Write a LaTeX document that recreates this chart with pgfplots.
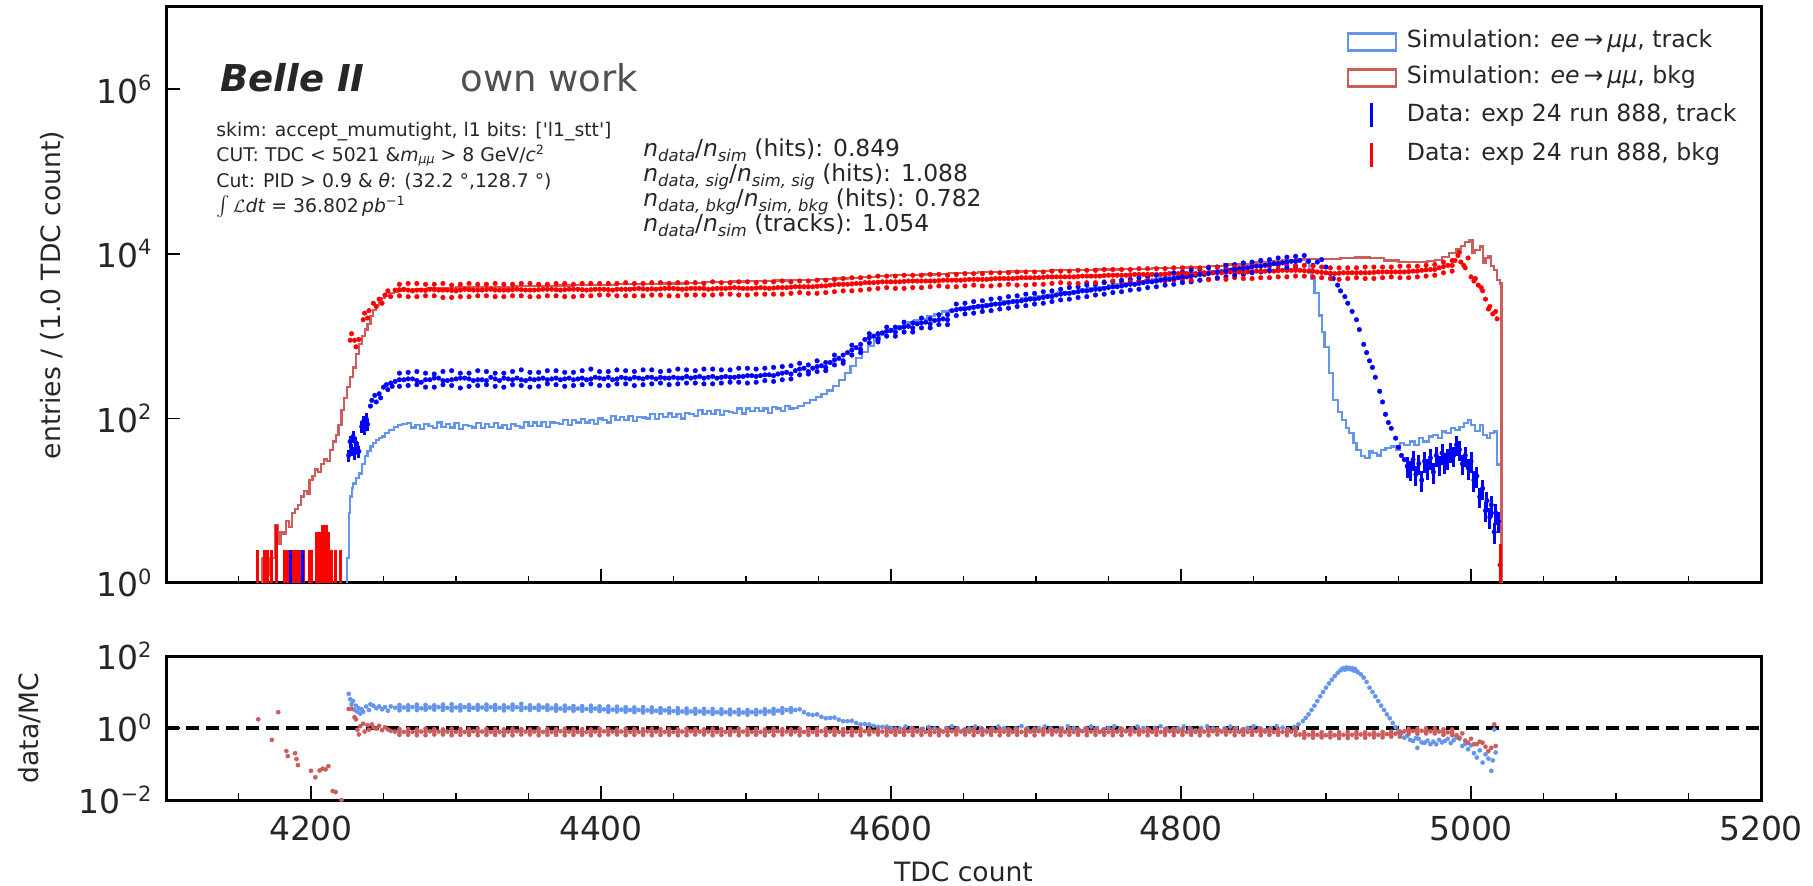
\documentclass[border=0pt]{standalone}
\usepackage{pgfplots}
\pgfplotsset{compat=1.18}
\usepackage{fontspec}
\setmainfont{DejaVu Sans}[Ligatures=TeXOff]
\definecolor{cfblue}{RGB}{100,149,237}
\definecolor{ired}{RGB}{205,92,92}
\definecolor{txt}{RGB}{38,38,38}
\definecolor{owngray}{RGB}{80,80,80}
\newcommand\tsup[1]{\raisebox{6.3pt}{\fontsize{10.5}{11}\selectfont#1}}
\newcommand\lsub[1]{\raisebox{-2.2pt}{\fontsize{8.2}{9}\selectfont\itshape#1}}
\newcommand\ssub[1]{\raisebox{-1.1pt}{\fontsize{6.3}{7}\selectfont\itshape#1}}
\newcommand\ssup[1]{\raisebox{3.6pt}{\fontsize{6.4}{7}\selectfont#1}}
\pgfplotsset{/pgfplots/table/lt/.style={x index=0, y expr=10^(\thisrowno{1}), row sep=\\}}
\begin{document}
\begin{tikzpicture}
\path[use as bounding box] (0pt,0pt) rectangle (906.5pt,-443pt);
\begin{axis}[at={(83pt,-3.5pt)}, anchor=north west, scale only axis, width=797.5pt, height=288pt,
  xmin=4100, xmax=5200, ymode=log, ymin=1, ymax=1e7,
  tick pos=left, tick align=inside,
  xtick={4200,4400,...,5200}, minor xtick={4150,4200,...,5150},
  major tick length=7pt, minor tick length=3.5pt,
  every tick/.style={line width=0.8pt, black},
  axis line style={line width=1.5pt, black},
  tick label style={font=\fontsize{16.5}{18}\selectfont, text=txt},
  yticklabel style={anchor=east, inner sep=0pt, xshift=-7pt},
  ytick={1,100,10000,1000000},
  yticklabels={10\tsup{0},10\tsup{2},10\tsup{4},10\tsup{6}},
  xticklabels={},
  ylabel={entries / (1.0 TDC count)},
  every axis y label/.style={at={(axis description cs:-0.0715,0.5)}, rotate=90, anchor=center, font=\fontsize{13.3}{15}\selectfont, text=txt},
  legend style={draw=none, fill=none, at={(0.9912,0.961)}, anchor=north east,
    font=\fontsize{11.8}{14}\selectfont, text=txt, row sep=6pt, inner sep=0pt,
    nodes={inner xsep=5pt, inner ysep=0pt, text height=9pt, text depth=3pt}},
  legend cell align=left]
% simulation track
\addplot[cfblue, line width=1.1pt, const plot, mark=none,
  legend image code/.code={\draw[cfblue, line width=1.2pt] (0pt,-4.25pt) rectangle (24pt,4.25pt);}]
 table[lt] {4224 -1\\ 4225 0.30\\ 4226 0.85\\ 4227 1.05\\ 4228 1.15\\ 4229 1.21\\ 4231 1.28\\ 4233 1.33\\ 4235 1.45\\ 4237 1.54\\ 4239 1.60\\ 4241 1.66\\ 4243 1.70\\ 4245 1.74\\ 4247 1.76\\ 4249 1.78\\ 4251 1.82\\ 4254 1.86\\ 4257 1.90\\ 4260 1.92\\ 4263 1.93\\
 4266 1.94\\ 4269 1.89\\ 4272 1.92\\ 4275 1.87\\ 4278 1.93\\ 4281 1.91\\ 4284 1.88\\ 4287 1.95\\ 4290 1.90\\ 4293 1.93\\ 4296 1.89\\ 4299 1.94\\ 4302 1.87\\ 4305 1.92\\ 4308 1.91\\ 4311 1.89\\ 4314 1.94\\ 4317 1.88\\ 4320 1.93\\ 4323 1.90\\ 4326 1.94\\ 4329 1.89\\ 4332 1.92\\ 4335 1.87\\ 4338 1.93\\ 4341 1.91\\
 4344 1.89\\ 4347 1.96\\ 4350 1.91\\ 4353 1.95\\ 4356 1.91\\ 4359 1.96\\ 4362 1.90\\ 4365 1.95\\ 4368 1.94\\ 4371 1.93\\ 4374 1.98\\ 4377 1.92\\ 4380 1.98\\ 4383 1.95\\ 4386 1.99\\ 4389 1.95\\ 4392 1.98\\ 4395 1.93\\ 4398 2.00\\ 4401 1.98\\ 4404 1.95\\ 4407 2.03\\ 4410 1.98\\ 4413 2.02\\ 4416 1.98\\ 4419 2.03\\ 4422 1.97\\ 4425 2.02\\
 4428 2.01\\ 4431 2.00\\ 4434 2.05\\ 4437 1.99\\ 4440 2.05\\ 4443 2.02\\ 4446 2.06\\ 4449 2.02\\ 4452 2.05\\ 4455 2.00\\ 4458 2.07\\ 4461 2.05\\ 4464 2.03\\ 4467 2.10\\ 4470 2.05\\ 4473 2.09\\ 4476 2.05\\ 4479 2.10\\ 4482 2.04\\ 4485 2.09\\ 4488 2.08\\ 4491 2.07\\ 4494 2.12\\ 4497 2.06\\ 4500 2.12\\ 4503 2.09\\ 4506 2.13\\ 4509 2.09\\ 4512 2.12\\ 4515 2.07\\ 4518 2.14\\ 4521 2.12\\ 4524 2.09\\ 4527 2.15\\ 4530 2.12\\ 4533 2.13\\
 4536 2.15\\ 4540 2.19\\ 4544 2.22\\ 4548 2.26\\ 4552 2.30\\ 4556 2.34\\ 4560 2.39\\ 4564 2.47\\ 4568 2.55\\ 4572 2.64\\ 4576 2.73\\ 4580 2.81\\ 4584 2.88\\ 4588 2.95\\ 4592 3.01\\ 4596 3.05\\ 4600 3.09\\ 4604 3.12\\ 4608 3.15\\ 4612 3.17\\ 4616 3.19\\ 4620 3.21\\ 4625 3.24\\ 4630 3.27\\ 4635 3.30\\ 4640 3.32\\
 4645 3.34\\ 4650 3.35\\ 4655 3.36\\ 4660 3.38\\ 4665 3.39\\ 4670 3.40\\ 4675 3.42\\ 4680 3.43\\ 4685 3.44\\ 4690 3.46\\ 4695 3.47\\ 4700 3.49\\ 4705 3.50\\ 4710 3.51\\ 4715 3.53\\ 4720 3.54\\ 4725 3.55\\ 4730 3.57\\ 4735 3.58\\ 4740 3.59\\ 4745 3.60\\ 4750 3.62\\ 4755 3.63\\ 4760 3.64\\ 4765 3.65\\ 4770 3.67\\ 4775 3.68\\ 4780 3.69\\ 4785 3.70\\ 4790 3.72\\ 4795 3.73\\ 4800 3.74\\ 4805 3.75\\ 4810 3.77\\ 4815 3.78\\ 4820 3.79\\ 4825 3.80\\ 4830 3.82\\ 4835 3.83\\ 4840 3.85\\ 4845 3.86\\ 4850 3.88\\ 4855 3.89\\ 4860 3.90\\ 4865 3.91\\ 4870 3.92\\ 4875 3.93\\ 4879 3.94\\
 4883 3.93\\ 4886 3.89\\ 4888 3.82\\ 4890 3.70\\ 4892 3.52\\ 4895 3.25\\ 4897 3.05\\ 4899 2.87\\ 4902 2.55\\ 4905 2.22\\ 4908 2.08\\ 4911 1.98\\ 4914 1.88\\ 4916 1.82\\ 4919 1.70\\ 4921 1.62\\ 4924 1.54\\ 4927 1.52\\ 4930 1.60\\ 4932 1.58\\ 4935 1.55\\ 4938 1.62\\ 4941 1.64\\ 4945 1.66\\ 4948 1.62\\ 4951 1.70\\ 4954 1.68\\ 4958 1.72\\ 4961 1.68\\ 4964 1.76\\ 4967 1.72\\ 4971 1.78\\ 4974 1.80\\ 4977 1.76\\ 4980 1.84\\ 4983 1.82\\ 4986 1.88\\ 4989 1.86\\ 4992 1.90\\ 4995 1.94\\ 4998 1.98\\ 5000 1.92\\ 5003 1.85\\ 5006 1.92\\ 5008 1.80\\ 5011 1.76\\ 5013 1.82\\ 5016 1.84\\ 5018 1.44\\ 5020.5 1.44\\};
\addlegendentry{Simulation: \textit{ee}\,→\,\textit{μμ}, track}
% simulation bkg
\addplot[ired, line width=1.1pt, const plot, mark=none,
  legend image code/.code={\draw[ired, line width=1.2pt] (0pt,-4.25pt) rectangle (24pt,4.25pt);}]
 table[lt] {4165 -1\\ 4166 0.30\\ 4169 0.10\\ 4172 0.30\\ 4175 0.70\\ 4177 0.48\\ 4179 0.62\\ 4181 0.60\\ 4183 0.75\\ 4185 0.68\\ 4187 0.85\\ 4189 0.90\\ 4191 0.95\\ 4193 1.05\\ 4195 1.12\\ 4197 1.08\\ 4199 1.25\\ 4201 1.30\\ 4203 1.38\\ 4205 1.35\\ 4207 1.45\\ 4209 1.50\\ 4211 1.48\\ 4213 1.62\\ 4215 1.72\\ 4217 1.80\\ 4219 1.92\\ 4221 2.10\\ 4223 2.25\\ 4225 2.38\\ 4227 2.50\\ 4229 2.62\\ 4231 2.78\\ 4233 2.90\\ 4235 3.00\\ 4237 3.08\\ 4239 3.15\\ 4241 3.24\\ 4243 3.32\\ 4245 3.38\\ 4247 3.42\\ 4249 3.46\\ 4251 3.49\\ 4254 3.52\\ 4257 3.54\\ 4260 3.55\\ 4264 3.56\\ 4270 3.57\\ 4280 3.58\\ 4290 3.585\\
 4300 3.59\\ 4310 3.595\\ 4320 3.60\\ 4330 3.60\\ 4340 3.605\\ 4350 3.61\\ 4360 3.61\\ 4370 3.615\\ 4380 3.62\\ 4390 3.62\\ 4400 3.625\\ 4410 3.63\\ 4420 3.63\\ 4430 3.635\\ 4440 3.64\\ 4450 3.64\\ 4460 3.65\\ 4470 3.655\\ 4480 3.66\\ 4490 3.665\\ 4500 3.67\\ 4510 3.67\\ 4520 3.675\\ 4530 3.68\\ 4540 3.685\\ 4550 3.69\\ 4560 3.70\\ 4570 3.71\\ 4580 3.72\\ 4590 3.73\\ 4600 3.74\\ 4610 3.745\\ 4620 3.75\\ 4630 3.76\\ 4640 3.765\\ 4650 3.77\\ 4660 3.775\\ 4670 3.78\\ 4680 3.785\\ 4690 3.79\\ 4700 3.795\\ 4710 3.80\\ 4720 3.80\\ 4730 3.805\\ 4740 3.81\\ 4750 3.81\\ 4760 3.815\\ 4770 3.82\\ 4780 3.825\\ 4790 3.83\\ 4800 3.835\\ 4810 3.845\\ 4820 3.855\\ 4830 3.87\\ 4840 3.88\\ 4850 3.895\\ 4860 3.91\\ 4870 3.925\\ 4880 3.935\\ 4890 3.94\\ 4900 3.935\\ 4910 3.95\\ 4920 3.955\\ 4930 3.945\\ 4940 3.92\\ 4950 3.905\\ 4960 3.90\\ 4970 3.91\\ 4975 3.93\\ 4980 3.96\\ 4985 4.01\\ 4990 4.06\\ 4993 4.10\\ 4996 4.14\\ 4999 4.17\\ 5001 4.01\\ 5003 4.05\\ 5006 4.09\\ 5008 3.89\\ 5010 3.95\\ 5012 3.97\\ 5014 3.85\\ 5016 3.80\\ 5018 3.68\\ 5020 3.64\\ 5021 -1\\ 5022 -1\\};
\addlegendentry{Simulation: \textit{ee}\,→\,\textit{μμ}, bkg}
% data track
\addplot[only marks, mark=*, mark size=1.15pt, blue, mark options={fill=blue, line width=0.2pt},
  legend image code/.code={\path[draw=none, fill=none] (0pt,-4.25pt) rectangle (24pt,4.25pt); \draw[blue, line width=1.6pt] (12pt,-6pt) -- (12pt,6pt);}]
 table[lt] {4241 2.15\\ 4242 2.22\\ 4244 2.28\\ 4245 2.20\\ 4247 2.30\\ 4248 2.25\\ 4250 2.38\\ 4252 2.41\\ 4253 2.35\\ 4255 2.43\\ 4256 2.39\\
 4258 2.45\\ 4261 2.55\\ 4264 2.47\\ 4267 2.40\\ 4270 2.48\\ 4273 2.57\\ 4276 2.44\\ 4279 2.38\\ 4282 2.47\\ 4285 2.54\\ 4288 2.49\\ 4291 2.41\\ 4294 2.46\\ 4297 2.58\\ 4300 2.48\\ 4303 2.37\\ 4306 2.49\\ 4309 2.55\\ 4312 2.46\\ 4315 2.40\\ 4318 2.47\\ 4321 2.57\\ 4324 2.50\\ 4327 2.39\\ 4330 2.46\\ 4333 2.55\\ 4336 2.48\\ 4339 2.41\\
 4342 2.49\\ 4345 2.59\\ 4348 2.46\\ 4351 2.38\\ 4354 2.47\\ 4357 2.56\\ 4360 2.49\\ 4363 2.42\\ 4366 2.48\\ 4369 2.58\\ 4372 2.47\\ 4375 2.39\\ 4378 2.49\\ 4381 2.56\\ 4384 2.48\\ 4387 2.41\\ 4390 2.47\\ 4393 2.60\\ 4396 2.50\\ 4399 2.40\\ 4402 2.48\\ 4405 2.57\\ 4408 2.47\\ 4411 2.42\\ 4414 2.50\\ 4417 2.58\\ 4420 2.48\\ 4423 2.40\\
 4426 2.49\\ 4429 2.59\\ 4432 2.50\\ 4435 2.42\\ 4438 2.48\\ 4441 2.57\\ 4444 2.49\\ 4447 2.41\\ 4450 2.50\\ 4453 2.60\\ 4456 2.49\\ 4459 2.43\\ 4462 2.49\\ 4465 2.58\\ 4468 2.51\\ 4471 2.42\\ 4474 2.50\\ 4477 2.60\\ 4480 2.49\\ 4483 2.43\\ 4486 2.51\\ 4489 2.59\\ 4492 2.50\\ 4495 2.44\\ 4498 2.51\\ 4501 2.61\\ 4504 2.52\\ 4507 2.44\\
 4510 2.52\\ 4513 2.61\\ 4516 2.53\\ 4519 2.45\\ 4522 2.54\\ 4525 2.63\\ 4528 2.56\\ 4531 2.48\\ 4534 2.58\\ 4537 2.67\\ 4540 2.61\\ 4543 2.54\\ 4546 2.61\\ 4549 2.70\\ 4552 2.64\\ 4555 2.58\\ 4558 2.68\\ 4561 2.77\\ 4564 2.73\\ 4567 2.67\\ 4570 2.80\\ 4573 2.89\\ 4576 2.86\\ 4579 2.80\\ 4582 2.96\\ 4585 3.03\\ 4588 3.00\\ 4591 2.93\\ 4594 3.04\\ 4597 3.11\\ 4600 3.07\\ 4603 3.00\\ 4606 3.10\\ 4609 3.17\\ 4612 3.12\\ 4615 3.05\\ 4618 3.15\\ 4621 3.22\\ 4624 3.17\\ 4627 3.10\\ 4630 3.19\\ 4633 3.26\\ 4636 3.21\\ 4639 3.14\\
 4642 3.31\\ 4645 3.39\\ 4648 3.33\\ 4651 3.27\\ 4654 3.34\\ 4657 3.42\\ 4660 3.36\\ 4663 3.30\\ 4666 3.37\\ 4669 3.45\\ 4672 3.39\\ 4675 3.33\\ 4678 3.40\\ 4681 3.48\\ 4684 3.42\\ 4687 3.36\\ 4690 3.43\\ 4693 3.51\\ 4696 3.45\\ 4699 3.39\\ 4702 3.46\\ 4705 3.54\\ 4708 3.48\\ 4711 3.42\\ 4714 3.50\\ 4717 3.57\\ 4720 3.52\\ 4723 3.45\\ 4726 3.53\\ 4729 3.60\\ 4732 3.55\\ 4735 3.48\\ 4738 3.56\\ 4741 3.63\\ 4744 3.57\\ 4747 3.51\\
 4750 3.59\\ 4753 3.66\\ 4756 3.60\\ 4759 3.54\\ 4762 3.62\\ 4765 3.69\\ 4768 3.63\\ 4771 3.57\\ 4774 3.65\\ 4777 3.72\\ 4780 3.66\\ 4783 3.60\\ 4786 3.68\\ 4789 3.75\\ 4792 3.69\\ 4795 3.63\\ 4798 3.71\\ 4801 3.78\\ 4804 3.72\\ 4807 3.66\\ 4810 3.74\\ 4813 3.81\\ 4816 3.75\\ 4819 3.69\\ 4822 3.77\\ 4825 3.84\\ 4828 3.78\\ 4831 3.72\\ 4834 3.80\\ 4837 3.87\\ 4840 3.82\\ 4843 3.75\\ 4846 3.83\\ 4849 3.90\\ 4852 3.85\\ 4855 3.78\\ 4858 3.86\\ 4861 3.93\\ 4864 3.88\\ 4867 3.81\\ 4870 3.89\\ 4873 3.96\\ 4876 3.91\\ 4879 3.84\\
 4882 3.92\\ 4885 3.98\\ 4888 3.91\\ 4891 3.86\\ 4894 3.90\\ 4897 3.93\\ 4900 3.84\\ 4903 3.76\\ 4905 3.70\\ 4908 3.62\\ 4910 3.55\\ 4913 3.48\\ 4915 3.40\\ 4918 3.30\\ 4921 3.20\\ 4923 3.08\\ 4926 2.90\\ 4928 2.80\\ 4930 2.70\\ 4932 2.62\\ 4934 2.50\\ 4937 2.33\\ 4939 2.20\\ 4941 2.05\\ 4943 1.95\\ 4945 1.88\\ 4948 1.76\\ 4950 1.65\\ 4952 1.55\\ 4954 1.50\\};
\addlegendentry{Data: exp 24 run 888, track}
% data bkg
\addplot[only marks, mark=*, mark size=1.15pt, red, mark options={fill=red, line width=0.2pt},
  legend image code/.code={\path[draw=none, fill=none] (0pt,-4.25pt) rectangle (24pt,4.25pt); \draw[red, line width=1.6pt] (12pt,-6pt) -- (12pt,6pt);}]
 table[lt] {4227 2.95\\ 4228 3.03\\ 4230 2.95\\ 4231 2.87\\ 4233 2.96\\ 4236 3.20\\ 4237 3.28\\ 4239 3.22\\ 4240 3.31\\ 4243 3.40\\ 4245 3.36\\ 4247 3.45\\ 4249 3.40\\ 4251 3.50\\ 4253 3.55\\ 4255 3.48\\
 4258 3.56\\ 4261 3.63\\ 4264 3.57\\ 4267 3.48\\ 4270 3.55\\ 4273 3.64\\ 4276 3.56\\ 4279 3.49\\ 4282 3.57\\ 4285 3.63\\ 4288 3.56\\ 4291 3.47\\ 4294 3.56\\ 4297 3.62\\ 4300 3.55\\ 4303 3.48\\ 4306 3.57\\ 4309 3.64\\ 4312 3.56\\ 4315 3.49\\ 4318 3.56\\ 4321 3.63\\ 4324 3.57\\ 4327 3.48\\ 4330 3.56\\ 4333 3.63\\ 4336 3.56\\ 4339 3.49\\
 4342 3.57\\ 4345 3.64\\ 4348 3.56\\ 4351 3.48\\ 4354 3.56\\ 4357 3.63\\ 4360 3.57\\ 4363 3.49\\ 4366 3.57\\ 4369 3.64\\ 4372 3.56\\ 4375 3.48\\ 4378 3.57\\ 4381 3.63\\ 4384 3.57\\ 4387 3.49\\ 4390 3.56\\ 4393 3.64\\ 4396 3.57\\ 4399 3.50\\ 4402 3.57\\ 4405 3.64\\ 4408 3.56\\ 4411 3.49\\ 4414 3.57\\ 4417 3.65\\ 4420 3.57\\ 4423 3.49\\
 4426 3.58\\ 4429 3.64\\ 4432 3.57\\ 4435 3.50\\ 4438 3.57\\ 4441 3.65\\ 4444 3.58\\ 4447 3.49\\ 4450 3.58\\ 4453 3.65\\ 4456 3.57\\ 4459 3.50\\ 4462 3.58\\ 4465 3.65\\ 4468 3.58\\ 4471 3.50\\ 4474 3.57\\ 4477 3.66\\ 4480 3.58\\ 4483 3.51\\ 4486 3.58\\ 4489 3.65\\ 4492 3.59\\ 4495 3.50\\ 4498 3.58\\ 4501 3.66\\ 4504 3.58\\ 4507 3.51\\
 4510 3.59\\ 4513 3.66\\ 4516 3.58\\ 4519 3.51\\ 4522 3.59\\ 4525 3.67\\ 4528 3.59\\ 4531 3.52\\ 4534 3.60\\ 4537 3.67\\ 4540 3.60\\ 4543 3.52\\ 4546 3.60\\ 4549 3.68\\ 4552 3.61\\ 4555 3.53\\ 4558 3.62\\ 4561 3.69\\ 4564 3.63\\ 4567 3.55\\ 4570 3.63\\ 4573 3.71\\ 4576 3.64\\ 4579 3.56\\ 4582 3.65\\ 4585 3.72\\ 4588 3.65\\ 4591 3.58\\ 4594 3.66\\ 4597 3.73\\ 4600 3.66\\ 4603 3.58\\
 4606 3.66\\ 4609 3.74\\ 4612 3.67\\ 4615 3.59\\ 4618 3.67\\ 4621 3.74\\ 4624 3.67\\ 4627 3.60\\ 4630 3.67\\ 4633 3.75\\ 4636 3.68\\ 4639 3.60\\ 4642 3.68\\ 4645 3.75\\ 4648 3.68\\ 4651 3.61\\ 4654 3.69\\ 4657 3.76\\ 4660 3.69\\ 4663 3.61\\ 4666 3.69\\ 4669 3.77\\ 4672 3.70\\ 4675 3.62\\ 4678 3.70\\ 4681 3.77\\ 4684 3.70\\ 4687 3.62\\
 4690 3.71\\ 4693 3.78\\ 4696 3.71\\ 4699 3.63\\ 4702 3.71\\ 4705 3.78\\ 4708 3.72\\ 4711 3.64\\ 4714 3.72\\ 4717 3.79\\ 4720 3.72\\ 4723 3.64\\ 4726 3.72\\ 4729 3.80\\ 4732 3.73\\ 4735 3.65\\ 4738 3.73\\ 4741 3.80\\ 4744 3.73\\ 4747 3.66\\ 4750 3.74\\ 4753 3.81\\ 4756 3.74\\ 4759 3.66\\ 4762 3.74\\ 4765 3.81\\ 4768 3.75\\ 4771 3.67\\
 4774 3.75\\ 4777 3.82\\ 4780 3.75\\ 4783 3.67\\ 4786 3.75\\ 4789 3.82\\ 4792 3.76\\ 4795 3.68\\ 4798 3.76\\ 4801 3.83\\ 4804 3.76\\ 4807 3.68\\ 4810 3.76\\ 4813 3.83\\ 4816 3.77\\ 4819 3.69\\ 4822 3.77\\ 4825 3.84\\ 4828 3.77\\ 4831 3.69\\ 4834 3.78\\ 4837 3.84\\ 4840 3.78\\ 4843 3.70\\ 4846 3.78\\ 4849 3.85\\ 4852 3.79\\ 4855 3.71\\
 4858 3.79\\ 4861 3.85\\ 4864 3.79\\ 4867 3.72\\ 4870 3.80\\ 4873 3.86\\ 4876 3.80\\ 4879 3.73\\ 4882 3.80\\ 4885 3.86\\ 4888 3.79\\ 4891 3.72\\ 4894 3.78\\ 4897 3.84\\ 4900 3.77\\ 4903 3.70\\ 4906 3.76\\ 4909 3.83\\ 4912 3.77\\ 4915 3.70\\ 4918 3.77\\ 4921 3.83\\ 4924 3.77\\ 4927 3.70\\ 4930 3.77\\ 4933 3.84\\ 4936 3.78\\ 4939 3.71\\
 4942 3.78\\ 4945 3.84\\ 4948 3.78\\ 4951 3.71\\ 4954 3.78\\ 4957 3.85\\ 4960 3.79\\ 4963 3.72\\ 4966 3.80\\ 4969 3.86\\ 4972 3.81\\ 4975 3.74\\ 4978 3.83\\ 4981 3.90\\ 4984 3.86\\ 4987 3.79\\
 4989 3.92\\ 4991 3.98\\ 4992 4.02\\ 4993 3.90\\ 4995 3.86\\ 4996 3.83\\ 4998 3.95\\ 5000 3.72\\ 5002 3.67\\ 5003 3.70\\ 5005 3.62\\ 5007 3.59\\ 5008 3.55\\ 5010 3.45\\ 5012 3.33\\ 5013 3.36\\ 5015 3.27\\ 5017 3.30\\ 5018 3.21\\ 5020 0.22\\};
\addlegendentry{Data: exp 24 run 888, bkg}
% further data-bkg points of the dense rows
\addplot[only marks, mark=*, mark size=1.15pt, red, mark options={fill=red, line width=0.2pt}, forget plot]
 table[lt] {4261 3.565\\ 4261 3.49\\ 4267 3.56\\ 4267 3.64\\ 4273 3.56\\ 4273 3.48\\ 4279 3.555\\ 4279 3.63\\ 4285 3.565\\ 4285 3.49\\ 4291 3.56\\ 4291 3.64\\ 4297 3.555\\ 4297 3.47\\ 4303 3.56\\ 4303 3.63\\ 4309 3.565\\ 4309 3.48\\ 4315 3.56\\ 4315 3.63\\
 4321 3.565\\ 4321 3.49\\ 4327 3.56\\ 4327 3.64\\ 4333 3.56\\ 4333 3.48\\ 4339 3.565\\ 4339 3.63\\ 4345 3.565\\ 4345 3.49\\ 4351 3.56\\ 4351 3.64\\ 4357 3.565\\ 4357 3.48\\ 4363 3.57\\ 4363 3.63\\ 4369 3.565\\ 4369 3.49\\ 4375 3.565\\ 4375 3.64\\
 4381 3.57\\ 4381 3.48\\ 4387 3.565\\ 4387 3.64\\ 4393 3.565\\ 4393 3.49\\ 4399 3.57\\ 4399 3.64\\ 4405 3.565\\ 4405 3.50\\ 4411 3.57\\ 4411 3.64\\ 4417 3.57\\ 4417 3.49\\ 4423 3.575\\ 4423 3.64\\ 4429 3.575\\ 4429 3.49\\ 4435 3.575\\ 4435 3.65\\
 4441 3.575\\ 4441 3.50\\ 4447 3.58\\ 4447 3.64\\ 4453 3.575\\ 4453 3.49\\ 4459 3.575\\ 4459 3.65\\ 4465 3.58\\ 4465 3.50\\ 4471 3.58\\ 4471 3.64\\ 4477 3.575\\ 4477 3.50\\ 4483 3.58\\ 4483 3.65\\ 4489 3.585\\ 4489 3.51\\ 4495 3.585\\ 4495 3.66\\
 4501 3.58\\ 4501 3.50\\ 4507 3.585\\ 4507 3.65\\ 4513 3.585\\ 4513 3.51\\ 4519 3.585\\ 4519 3.66\\ 4525 3.59\\ 4525 3.51\\ 4531 3.595\\ 4531 3.66\\ 4537 3.60\\ 4537 3.53\\ 4543 3.60\\ 4543 3.67\\ 4549 3.605\\ 4549 3.52\\ 4555 3.61\\ 4555 3.68\\
 4561 3.625\\ 4561 3.54\\ 4567 3.63\\ 4567 3.70\\ 4573 3.635\\ 4573 3.55\\ 4579 3.64\\ 4579 3.71\\ 4585 3.65\\ 4585 3.57\\ 4591 3.655\\ 4591 3.73\\ 4597 3.66\\ 4597 3.59\\ 4603 3.66\\ 4603 3.73\\ 4609 3.665\\ 4609 3.58\\ 4615 3.67\\ 4615 3.74\\
 4621 3.67\\ 4621 3.59\\ 4627 3.67\\ 4627 3.75\\ 4633 3.675\\ 4633 3.61\\ 4639 3.68\\ 4639 3.74\\ 4645 3.68\\ 4645 3.60\\ 4651 3.685\\ 4651 3.76\\ 4657 3.69\\ 4657 3.62\\ 4663 3.69\\ 4663 3.76\\ 4669 3.695\\ 4669 3.61\\ 4675 3.70\\ 4675 3.77\\
 4681 3.70\\ 4681 3.63\\ 4687 3.705\\ 4687 3.78\\ 4693 3.71\\ 4693 3.62\\ 4699 3.71\\ 4699 3.78\\ 4705 3.715\\ 4705 3.63\\ 4711 3.72\\ 4711 3.79\\ 4717 3.72\\ 4717 3.65\\ 4723 3.72\\ 4723 3.79\\ 4729 3.725\\ 4729 3.64\\ 4735 3.73\\ 4735 3.80\\
 4741 3.73\\ 4741 3.65\\ 4747 3.735\\ 4747 3.81\\ 4753 3.74\\ 4753 3.67\\ 4759 3.74\\ 4759 3.81\\ 4765 3.745\\ 4765 3.66\\ 4771 3.75\\ 4771 3.82\\ 4777 3.75\\ 4777 3.68\\ 4783 3.75\\ 4783 3.82\\ 4789 3.755\\ 4789 3.67\\ 4795 3.76\\ 4795 3.83\\
 4801 3.76\\ 4801 3.69\\ 4807 3.76\\ 4807 3.83\\ 4813 3.765\\ 4813 3.68\\ 4819 3.77\\ 4819 3.84\\ 4825 3.77\\ 4825 3.70\\ 4831 3.775\\ 4831 3.84\\ 4837 3.78\\ 4837 3.71\\ 4843 3.78\\ 4843 3.85\\ 4849 3.785\\ 4849 3.70\\ 4855 3.79\\ 4855 3.85\\
 4861 3.79\\ 4861 3.71\\ 4867 3.795\\ 4867 3.86\\ 4873 3.80\\ 4873 3.72\\ 4879 3.80\\ 4879 3.86\\ 4885 3.795\\ 4885 3.73\\ 4891 3.79\\ 4891 3.85\\ 4897 3.775\\ 4897 3.71\\ 4903 3.765\\ 4903 3.83\\ 4909 3.765\\ 4909 3.69\\ 4915 3.77\\ 4915 3.83\\
 4921 3.77\\ 4921 3.71\\ 4927 3.77\\ 4927 3.84\\ 4933 3.775\\ 4933 3.70\\ 4939 3.78\\ 4939 3.84\\ 4945 3.78\\ 4945 3.72\\ 4951 3.78\\ 4951 3.85\\ 4957 3.785\\ 4957 3.71\\ 4963 3.79\\ 4963 3.85\\ 4969 3.805\\ 4969 3.73\\ 4975 3.81\\ 4975 3.87\\ 4981 3.845\\ 4981 3.77\\ 4987 3.86\\ 4987 3.92\\};
% further data-track points of the dense rows
\addplot[only marks, mark=*, mark size=1.15pt, blue, mark options={fill=blue, line width=0.2pt}, forget plot]
 table[lt] {4261 2.47\\ 4261 2.39\\ 4267 2.48\\ 4267 2.56\\ 4273 2.46\\ 4273 2.41\\ 4279 2.47\\ 4279 2.55\\ 4285 2.49\\ 4285 2.38\\ 4291 2.46\\ 4291 2.57\\ 4297 2.47\\ 4297 2.40\\ 4303 2.49\\ 4303 2.55\\ 4309 2.48\\ 4309 2.39\\ 4315 2.47\\ 4315 2.58\\
 4321 2.46\\ 4321 2.41\\ 4327 2.48\\ 4327 2.55\\ 4333 2.49\\ 4333 2.38\\ 4339 2.47\\ 4339 2.57\\ 4345 2.47\\ 4345 2.40\\ 4351 2.48\\ 4351 2.56\\ 4357 2.48\\ 4357 2.39\\ 4363 2.47\\ 4363 2.58\\ 4369 2.49\\ 4369 2.41\\ 4375 2.48\\ 4375 2.56\\
 4381 2.47\\ 4381 2.40\\ 4387 2.49\\ 4387 2.58\\ 4393 2.48\\ 4393 2.42\\ 4399 2.49\\ 4399 2.57\\ 4405 2.50\\ 4405 2.40\\ 4411 2.48\\ 4411 2.59\\ 4417 2.49\\ 4417 2.42\\ 4423 2.50\\ 4423 2.57\\ 4429 2.48\\ 4429 2.41\\ 4435 2.50\\ 4435 2.59\\
 4441 2.50\\ 4441 2.43\\ 4447 2.49\\ 4447 2.58\\ 4453 2.49\\ 4453 2.42\\ 4459 2.51\\ 4459 2.59\\ 4465 2.50\\ 4465 2.43\\ 4471 2.49\\ 4471 2.60\\ 4477 2.51\\ 4477 2.42\\ 4483 2.50\\ 4483 2.59\\ 4489 2.50\\ 4489 2.44\\ 4495 2.51\\ 4495 2.61\\
 4501 2.52\\ 4501 2.43\\ 4507 2.51\\ 4507 2.60\\ 4513 2.53\\ 4513 2.46\\ 4519 2.52\\ 4519 2.62\\ 4525 2.55\\ 4525 2.47\\ 4531 2.54\\ 4531 2.64\\ 4537 2.60\\ 4537 2.53\\ 4543 2.57\\ 4543 2.65\\ 4549 2.63\\ 4549 2.57\\ 4555 2.62\\ 4555 2.68\\
 4561 2.71\\ 4561 2.65\\ 4567 2.70\\ 4567 2.77\\ 4573 2.83\\ 4573 2.77\\ 4579 2.84\\ 4579 2.90\\ 4585 2.98\\ 4585 2.92\\ 4591 2.97\\ 4591 3.03\\ 4597 3.06\\ 4597 3.00\\ 4603 3.05\\ 4603 3.11\\ 4609 3.11\\ 4609 3.05\\ 4615 3.10\\ 4615 3.16\\
 4621 3.16\\ 4621 3.10\\ 4627 3.15\\ 4627 3.21\\ 4633 3.20\\ 4633 3.14\\ 4639 3.20\\ 4639 3.26\\ 4645 3.32\\ 4645 3.25\\ 4651 3.33\\ 4651 3.40\\ 4657 3.35\\ 4657 3.28\\ 4663 3.36\\ 4663 3.43\\ 4669 3.38\\ 4669 3.31\\ 4675 3.39\\ 4675 3.46\\
 4681 3.41\\ 4681 3.34\\ 4687 3.42\\ 4687 3.49\\ 4693 3.44\\ 4693 3.37\\ 4699 3.45\\ 4699 3.52\\ 4705 3.47\\ 4705 3.40\\ 4711 3.48\\ 4711 3.55\\ 4717 3.51\\ 4717 3.44\\ 4723 3.52\\ 4723 3.59\\ 4729 3.54\\ 4729 3.47\\ 4735 3.55\\ 4735 3.62\\
 4741 3.57\\ 4741 3.50\\ 4747 3.58\\ 4747 3.65\\ 4753 3.60\\ 4753 3.53\\ 4759 3.61\\ 4759 3.68\\ 4765 3.63\\ 4765 3.56\\ 4771 3.64\\ 4771 3.71\\ 4777 3.66\\ 4777 3.59\\ 4783 3.67\\ 4783 3.74\\ 4789 3.69\\ 4789 3.62\\ 4795 3.70\\ 4795 3.77\\
 4801 3.72\\ 4801 3.65\\ 4807 3.73\\ 4807 3.80\\ 4813 3.75\\ 4813 3.68\\ 4819 3.76\\ 4819 3.83\\ 4825 3.78\\ 4825 3.71\\ 4831 3.79\\ 4831 3.86\\ 4837 3.81\\ 4837 3.74\\ 4843 3.82\\ 4843 3.89\\ 4849 3.84\\ 4849 3.77\\ 4855 3.85\\ 4855 3.92\\
 4861 3.87\\ 4861 3.80\\ 4867 3.88\\ 4867 3.95\\ 4873 3.90\\ 4873 3.83\\ 4879 3.91\\ 4879 3.97\\};
% low-count data error bars
\addplot[ycomb, red, line width=1.5pt, mark=none, forget plot]
 table[lt] {4163 0.40\\ 4168 0.40\\ 4170 0.40\\ 4173 0.40\\ 4176 0.70\\ 4182 0.40\\ 4184 0.40\\ 4188 0.40\\ 4190 0.40\\ 4192 0.40\\ 4195 0.40\\ 4199 0.40\\ 4200 0.40\\ 4204 0.62\\ 4205 0.62\\ 4207 0.62\\ 4208 0.70\\ 4209 0.70\\ 4210 0.70\\ 4211 0.70\\ 4212 0.62\\ 4214 0.40\\ 4217 0.40\\ 4220 0.40\\ 5020 0.48\\};
\addplot[ycomb, blue, line width=1.5pt, mark=none, forget plot]
 table[lt] {4186 0.40\\ 4194 0.40\\};
\addplot[error bars/y dir=both, error bars/y fixed relative=0.17, error bars/error mark=none, error bars/error bar style={line width=1.5pt, blue},
  only marks, mark=*, mark size=1.15pt, blue, mark options={fill=blue, line width=0.2pt}, forget plot]
 table[lt] {4226 1.55\\ 4227 1.72\\ 4228 1.62\\ 4229 1.78\\ 4230 1.58\\ 4231 1.70\\ 4232 1.65\\ 4233 1.60\\ 4235 1.90\\ 4236 1.96\\ 4237 1.88\\ 4238 2.00\\ 4239 1.93\\};
\addplot[error bars/y dir=both, error bars/y fixed relative=0.28, error bars/error mark=none, error bars/error bar style={line width=1.5pt, blue},
  only marks, mark=*, mark size=1.15pt, blue, mark options={fill=blue, line width=0.2pt}, forget plot]
 table[lt] {4956 1.42\\ 4958 1.38\\ 4960 1.50\\ 4962 1.32\\ 4964 1.45\\ 4966 1.25\\ 4968 1.48\\ 4970 1.40\\ 4972 1.52\\ 4974 1.35\\ 4976 1.55\\ 4978 1.44\\ 4980 1.58\\ 4982 1.47\\ 4984 1.52\\ 4986 1.60\\ 4988 1.55\\ 4990 1.68\\ 4992 1.62\\ 4994 1.45\\ 4996 1.55\\ 4998 1.40\\ 5000 1.48\\ 5002 1.25\\ 5004 1.30\\ 5006 1.05\\ 5008 1.15\\ 5010 0.88\\ 5011 1.00\\ 5013 0.80\\ 5014 0.95\\ 5016 0.62\\ 5017 0.85\\ 5019 0.75\\};
\end{axis}
\node[anchor=base west, inner sep=0pt, font=\fontsize{18.5}{20}\selectfont\bfseries\itshape, text=txt] at (110pt,-46pt) {Belle II};
\node[anchor=base west, inner sep=0pt, font=\fontsize{18.5}{20}\selectfont, text=owngray] at (230pt,-46pt) {own work};
\begin{scope}[every node/.style={anchor=base west, inner sep=0pt, font=\fontsize{9.4}{11}\selectfont, text=txt}]
\node at (108pt,-68.5pt) {skim: accept\_mumutight, l1 bits: ['l1\_stt']};
\node at (108pt,-80.8pt) {CUT: TDC < 5021 \&\textit{m}\ssub{μμ} > 8 GeV/\textit{c}\ssup{2}};
\node at (108pt,-93.8pt) {Cut: PID > 0.9 \& \textit{θ}: (32.2 °,128.7 °)};
\node at (108pt,-106.3pt) {\raisebox{-0.5pt}{\fontsize{14}{14}\selectfont$\int$}\,$\mathcal{L}$\textit{dt} = 36.802\,\textit{pb}\ssup{−1}};
\end{scope}
\begin{scope}[every node/.style={anchor=base west, inner sep=0pt, font=\fontsize{11.7}{13}\selectfont, text=txt}]
\node at (321.5pt,-78.5pt) {\textit{n}\lsub{data}/\textit{n}\lsub{sim} (hits): 0.849};
\node at (321.5pt,-91pt) {\textit{n}\lsub{data, sig}/\textit{n}\lsub{sim, sig} (hits): 1.088};
\node at (321.5pt,-103.5pt) {\textit{n}\lsub{data, bkg}/\textit{n}\lsub{sim, bkg} (hits): 0.782};
\node at (321.5pt,-116pt) {\textit{n}\lsub{data}/\textit{n}\lsub{sim} (tracks): 1.054};
\end{scope}
\begin{axis}[at={(83pt,-328pt)}, anchor=north west, scale only axis, width=797.5pt, height=72pt,
  xmin=4100, xmax=5200, ymode=log, ymin=0.01, ymax=100,
  tick pos=left, tick align=inside,
  xtick={4200,4400,...,5200}, minor xtick={4150,4200,...,5150},
  major tick length=7pt, minor tick length=3.5pt,
  every tick/.style={line width=0.8pt, black},
  axis line style={line width=1.5pt, black},
  tick label style={font=\fontsize{16.5}{18}\selectfont, text=txt},
  yticklabel style={anchor=east, inner sep=0pt, xshift=-7pt},
  xticklabel style={anchor=base, inner sep=0pt, yshift=-20pt},
  /pgf/number format/assume math mode=true, /pgf/number format/1000 sep={},
  ytick={0.01,1,100},
  yticklabels={10\tsup{−2},10\tsup{0},10\tsup{2}},
  xlabel={TDC count}, ylabel={data/MC},
  every axis y label/.style={at={(axis description cs:-0.0853,0.5)}, rotate=90, anchor=center, font=\fontsize{13.3}{15}\selectfont, text=txt},
  every axis x label/.style={at={(axis description cs:0.5,-0.5625)}, anchor=base, font=\fontsize{13.3}{15}\selectfont, text=txt}]
% ratio track
\addplot[only marks, mark=*, mark size=1.05pt, cfblue, mark options={fill=cfblue, line width=0.2pt}]
 table[lt] {4226 0.95\\ 4227 0.80\\ 4228 0.66\\ 4229 0.75\\ 4230 0.50\\ 4231 0.62\\ 4232 0.45\\ 4233 0.55\\ 4234 0.40\\ 4235 0.52\\ 4236 0.45\\ 4238 0.60\\ 4240 0.50\\ 4241 0.66\\ 4243 0.62\\ 4245 0.55\\ 4247 0.60\\ 4249 0.52\\ 4251 0.58\\ 4253 0.48\\ 4255 0.60\\
 4258 0.56\\ 4261 0.64\\ 4264 0.57\\ 4267 0.50\\ 4270 0.58\\ 4273 0.65\\ 4276 0.55\\ 4279 0.51\\ 4282 0.57\\ 4285 0.63\\ 4288 0.58\\ 4291 0.50\\ 4294 0.56\\ 4297 0.66\\ 4300 0.57\\ 4303 0.49\\ 4306 0.58\\ 4309 0.64\\ 4312 0.56\\ 4315 0.51\\ 4318 0.57\\ 4321 0.65\\ 4324 0.58\\ 4327 0.50\\ 4330 0.56\\ 4333 0.63\\ 4336 0.57\\ 4339 0.51\\
 4342 0.58\\ 4345 0.67\\ 4348 0.56\\ 4351 0.50\\ 4354 0.56\\ 4357 0.63\\ 4360 0.57\\ 4363 0.50\\ 4366 0.55\\ 4369 0.63\\ 4372 0.54\\ 4375 0.48\\ 4378 0.55\\ 4381 0.61\\ 4384 0.54\\ 4387 0.48\\ 4390 0.53\\ 4393 0.62\\ 4396 0.54\\ 4399 0.47\\ 4402 0.52\\ 4405 0.60\\ 4408 0.51\\ 4411 0.46\\ 4414 0.51\\ 4417 0.58\\ 4420 0.50\\ 4423 0.44\\
 4426 0.50\\ 4429 0.58\\ 4432 0.49\\ 4435 0.44\\ 4438 0.48\\ 4441 0.55\\ 4444 0.49\\ 4447 0.42\\ 4450 0.47\\ 4453 0.55\\ 4456 0.46\\ 4459 0.41\\ 4462 0.46\\ 4465 0.53\\ 4468 0.46\\ 4471 0.40\\ 4474 0.45\\ 4477 0.53\\ 4480 0.44\\ 4483 0.39\\ 4486 0.44\\ 4489 0.51\\ 4492 0.44\\ 4495 0.38\\ 4498 0.43\\ 4501 0.50\\ 4504 0.44\\ 4507 0.38\\
 4510 0.45\\ 4513 0.52\\ 4516 0.46\\ 4519 0.40\\ 4522 0.48\\ 4525 0.55\\ 4528 0.50\\ 4531 0.45\\ 4534 0.50\\ 4537 0.52\\ 4540 0.44\\ 4543 0.38\\ 4546 0.36\\ 4549 0.38\\ 4552 0.31\\ 4555 0.27\\ 4558 0.28\\ 4561 0.29\\ 4564 0.23\\ 4567 0.19\\ 4570 0.19\\ 4573 0.20\\ 4576 0.14\\ 4579 0.10\\ 4582 0.11\\ 4585 0.10\\ 4588 0.06\\ 4591 0.03\\ 4594 0.03\\ 4597 0.04\\ 4600 0.00\\ 4603 -0.02\\
 4606 -0.01\\ 4610 0.04\\ 4614 0.00\\ 4618 -0.06\\ 4622 -0.02\\ 4626 0.03\\ 4630 -0.01\\ 4634 -0.07\\ 4638 0.00\\ 4642 0.05\\ 4646 -0.01\\ 4650 -0.06\\ 4654 -0.01\\ 4658 0.04\\ 4662 0.00\\ 4666 -0.07\\ 4670 -0.02\\ 4674 0.04\\ 4678 0.00\\ 4682 -0.06\\ 4686 -0.01\\ 4690 0.05\\ 4694 -0.01\\ 4698 -0.07\\ 4702 0.00\\ 4706 0.04\\ 4710 -0.01\\ 4714 -0.06\\
 4718 -0.01\\ 4722 0.05\\ 4726 0.00\\ 4730 -0.07\\ 4734 -0.01\\ 4738 0.04\\ 4742 0.00\\ 4746 -0.06\\ 4750 0.00\\ 4754 0.05\\ 4758 -0.01\\ 4762 -0.07\\ 4766 -0.01\\ 4770 0.04\\ 4774 0.00\\ 4778 -0.06\\ 4782 0.00\\ 4786 0.05\\ 4790 -0.01\\ 4794 -0.06\\ 4798 -0.01\\ 4802 0.04\\ 4806 0.00\\ 4810 -0.07\\ 4814 0.00\\ 4818 0.05\\ 4822 -0.01\\ 4826 -0.06\\
 4830 -0.01\\ 4834 0.04\\ 4838 0.00\\ 4842 -0.06\\ 4846 0.00\\ 4850 0.05\\ 4854 -0.01\\ 4858 -0.06\\ 4862 0.00\\ 4866 0.05\\ 4870 0.01\\ 4874 -0.04\\ 4878 0.03\\ 4881 0.10\\ 4884 0.19\\ 4886 0.28\\
 4888 0.38\\ 4890 0.50\\ 4892 0.62\\ 4894 0.75\\ 4896 0.88\\ 4898 1.00\\ 4900 1.12\\ 4902 1.24\\ 4904 1.34\\ 4906 1.44\\ 4908 1.53\\ 4910 1.60\\ 4911 1.64\\ 4912 1.66\\ 4913 1.62\\ 4914 1.68\\ 4915 1.64\\ 4916 1.67\\ 4917 1.63\\ 4918 1.66\\ 4919 1.60\\ 4920 1.64\\ 4921 1.58\\ 4922 1.55\\ 4924 1.49\\ 4926 1.40\\ 4928 1.28\\ 4930 1.12\\ 4932 1.00\\ 4934 0.88\\ 4936 0.75\\ 4938 0.62\\ 4940 0.50\\ 4942 0.38\\ 4944 0.27\\ 4946 0.14\\ 4948 0.02\\
 4950 -0.08\\ 4952 -0.15\\ 4954 -0.27\\ 4956 -0.22\\ 4958 -0.33\\ 4960 -0.36\\ 4962 -0.28\\ 4963 -0.55\\ 4964 -0.30\\ 4966 -0.40\\ 4968 -0.41\\ 4970 -0.35\\ 4972 -0.45\\ 4974 -0.38\\ 4976 -0.45\\ 4978 -0.33\\ 4980 -0.40\\ 4982 -0.36\\ 4984 -0.30\\ 4986 -0.42\\ 4988 -0.34\\ 4990 -0.26\\ 4992 -0.30\\ 4994 -0.50\\ 4996 -0.44\\ 4998 -0.59\\ 5000 -0.48\\ 5002 -0.70\\ 5004 -0.82\\ 5006 -0.62\\ 5008 -0.96\\ 5010 -0.73\\ 5012 -0.85\\ 5014 -1.19\\ 5015 -0.90\\ 5016 -0.04\\ 5017 -0.68\\};
\addplot[only marks, mark=*, mark size=1.05pt, cfblue, mark options={fill=cfblue, line width=0.2pt}, forget plot]
 table[lt] {4261 0.57\\ 4261 0.49\\ 4267 0.56\\ 4267 0.63\\ 4273 0.57\\ 4273 0.50\\ 4279 0.56\\ 4279 0.64\\ 4285 0.58\\ 4285 0.51\\ 4291 0.57\\ 4291 0.65\\ 4297 0.57\\ 4297 0.49\\ 4303 0.56\\ 4303 0.63\\ 4309 0.57\\ 4309 0.50\\ 4315 0.58\\ 4315 0.64\\
 4321 0.56\\ 4321 0.51\\ 4327 0.57\\ 4327 0.64\\ 4333 0.57\\ 4333 0.49\\ 4339 0.58\\ 4339 0.65\\ 4345 0.57\\ 4345 0.50\\ 4351 0.56\\ 4351 0.63\\ 4357 0.57\\ 4357 0.50\\ 4363 0.56\\ 4363 0.63\\ 4369 0.55\\ 4369 0.48\\ 4375 0.54\\ 4375 0.62\\
 4381 0.54\\ 4381 0.48\\ 4387 0.55\\ 4387 0.61\\ 4393 0.54\\ 4393 0.47\\ 4399 0.53\\ 4399 0.60\\ 4405 0.52\\ 4405 0.45\\ 4411 0.51\\ 4411 0.59\\ 4417 0.51\\ 4417 0.45\\ 4423 0.50\\ 4423 0.57\\ 4429 0.49\\ 4429 0.43\\ 4435 0.50\\ 4435 0.57\\
 4441 0.49\\ 4441 0.42\\ 4447 0.48\\ 4447 0.55\\ 4453 0.47\\ 4453 0.41\\ 4459 0.47\\ 4459 0.54\\ 4465 0.46\\ 4465 0.40\\ 4471 0.46\\ 4471 0.53\\ 4477 0.45\\ 4477 0.39\\ 4483 0.44\\ 4483 0.52\\ 4489 0.44\\ 4489 0.38\\ 4495 0.44\\ 4495 0.51\\
 4501 0.44\\ 4501 0.37\\ 4507 0.43\\ 4507 0.50\\ 4513 0.46\\ 4513 0.39\\ 4519 0.46\\ 4519 0.53\\ 4525 0.49\\ 4525 0.42\\ 4531 0.48\\ 4531 0.55\\};
% ratio bkg
\addplot[only marks, mark=*, mark size=1.05pt, ired, mark options={fill=ired, line width=0.2pt}]
 table[lt] {4163.6 0.24\\ 4173 -0.33\\ 4177.4 0.44\\ 4183 -0.64\\ 4184 -0.78\\ 4189 -0.70\\ 4190 -0.86\\ 4191 -1.03\\ 4200 -1.19\\ 4203 -1.37\\ 4206 -1.18\\ 4208 -1.13\\ 4210 -1.15\\ 4212 -1.06\\ 4215 -1.75\\ 4217 -1.78\\ 4221 -2.00\\
 4226 0.53\\ 4228 0.54\\ 4230 0.30\\ 4231 0.24\\ 4232 -0.05\\ 4233 -0.18\\ 4234 0.05\\ 4236 0.12\\ 4237 -0.10\\ 4239 0.08\\ 4240 -0.05\\ 4242 0.10\\ 4243 0.02\\ 4245 -0.02\\ 4247 0.06\\ 4249 -0.06\\ 4251 0.02\\ 4253 -0.04\\ 4255 -0.08\\
 4258 -0.10\\ 4261 -0.03\\ 4264 -0.11\\ 4267 -0.19\\ 4270 -0.11\\ 4273 -0.04\\ 4276 -0.10\\ 4279 -0.20\\ 4282 -0.09\\ 4285 -0.03\\ 4288 -0.10\\ 4291 -0.18\\ 4294 -0.10\\ 4297 -0.02\\ 4300 -0.11\\ 4303 -0.19\\ 4306 -0.11\\ 4309 -0.03\\ 4312 -0.09\\ 4315 -0.20\\
 4318 -0.10\\ 4321 -0.03\\ 4324 -0.11\\ 4327 -0.19\\ 4330 -0.11\\ 4333 -0.04\\ 4336 -0.10\\ 4339 -0.20\\ 4342 -0.09\\ 4345 -0.03\\ 4348 -0.10\\ 4351 -0.18\\ 4354 -0.10\\ 4357 -0.02\\ 4360 -0.11\\ 4363 -0.19\\ 4366 -0.11\\ 4369 -0.03\\ 4372 -0.09\\ 4375 -0.20\\
 4378 -0.10\\ 4381 -0.03\\ 4384 -0.11\\ 4387 -0.19\\ 4390 -0.11\\ 4393 -0.04\\ 4396 -0.10\\ 4399 -0.20\\ 4402 -0.09\\ 4405 -0.03\\ 4408 -0.10\\ 4411 -0.18\\ 4414 -0.10\\ 4417 -0.02\\ 4420 -0.11\\ 4423 -0.19\\ 4426 -0.11\\ 4429 -0.03\\ 4432 -0.09\\ 4435 -0.20\\
 4438 -0.10\\ 4441 -0.03\\ 4444 -0.11\\ 4447 -0.19\\ 4450 -0.11\\ 4453 -0.04\\ 4456 -0.10\\ 4459 -0.20\\ 4462 -0.09\\ 4465 -0.03\\ 4468 -0.10\\ 4471 -0.18\\ 4474 -0.10\\ 4477 -0.02\\ 4480 -0.11\\ 4483 -0.19\\ 4486 -0.11\\ 4489 -0.03\\ 4492 -0.09\\ 4495 -0.20\\
 4498 -0.10\\ 4501 -0.03\\ 4504 -0.11\\ 4507 -0.19\\ 4510 -0.11\\ 4513 -0.04\\ 4516 -0.10\\ 4519 -0.20\\ 4522 -0.09\\ 4525 -0.03\\ 4528 -0.10\\ 4531 -0.18\\ 4534 -0.10\\ 4537 -0.02\\ 4540 -0.11\\ 4543 -0.19\\ 4546 -0.11\\ 4549 -0.03\\ 4552 -0.09\\ 4555 -0.20\\
 4558 -0.10\\ 4561 -0.03\\ 4564 -0.11\\ 4567 -0.19\\ 4570 -0.11\\ 4573 -0.04\\ 4576 -0.10\\ 4579 -0.20\\ 4582 -0.09\\ 4585 -0.03\\ 4588 -0.10\\ 4591 -0.18\\ 4594 -0.10\\ 4597 -0.02\\ 4600 -0.11\\ 4603 -0.19\\ 4606 -0.11\\ 4609 -0.03\\ 4612 -0.09\\ 4615 -0.20\\
 4618 -0.10\\ 4621 -0.03\\ 4624 -0.11\\ 4627 -0.19\\ 4630 -0.11\\ 4633 -0.04\\ 4636 -0.10\\ 4639 -0.20\\ 4642 -0.09\\ 4645 -0.03\\ 4648 -0.10\\ 4651 -0.18\\ 4654 -0.10\\ 4657 -0.02\\ 4660 -0.11\\ 4663 -0.19\\ 4666 -0.11\\ 4669 -0.03\\ 4672 -0.09\\ 4675 -0.20\\
 4678 -0.10\\ 4681 -0.03\\ 4684 -0.11\\ 4687 -0.19\\ 4690 -0.11\\ 4693 -0.04\\ 4696 -0.10\\ 4699 -0.20\\ 4702 -0.09\\ 4705 -0.03\\ 4708 -0.10\\ 4711 -0.18\\ 4714 -0.10\\ 4717 -0.02\\ 4720 -0.11\\ 4723 -0.19\\ 4726 -0.11\\ 4729 -0.03\\ 4732 -0.09\\ 4735 -0.20\\
 4738 -0.10\\ 4741 -0.03\\ 4744 -0.11\\ 4747 -0.19\\ 4750 -0.11\\ 4753 -0.04\\ 4756 -0.10\\ 4759 -0.20\\ 4762 -0.09\\ 4765 -0.03\\ 4768 -0.10\\ 4771 -0.18\\ 4774 -0.10\\ 4777 -0.02\\ 4780 -0.11\\ 4783 -0.19\\ 4786 -0.11\\ 4789 -0.03\\ 4792 -0.09\\ 4795 -0.20\\
 4798 -0.10\\ 4801 -0.03\\ 4804 -0.11\\ 4807 -0.19\\ 4810 -0.11\\ 4813 -0.04\\ 4816 -0.10\\ 4819 -0.20\\ 4822 -0.09\\ 4825 -0.03\\ 4828 -0.10\\ 4831 -0.18\\ 4834 -0.10\\ 4837 -0.02\\ 4840 -0.11\\ 4843 -0.19\\ 4846 -0.11\\ 4849 -0.03\\ 4852 -0.09\\ 4855 -0.20\\
 4858 -0.10\\ 4861 -0.03\\ 4864 -0.11\\ 4867 -0.19\\ 4870 -0.11\\ 4873 -0.04\\ 4876 -0.10\\ 4879 -0.20\\
 4882 -0.18\\ 4885 -0.11\\ 4888 -0.19\\ 4891 -0.27\\ 4894 -0.19\\ 4897 -0.12\\ 4900 -0.20\\ 4903 -0.26\\ 4906 -0.20\\ 4909 -0.12\\ 4912 -0.19\\ 4915 -0.28\\ 4918 -0.19\\ 4921 -0.11\\ 4924 -0.18\\ 4927 -0.27\\ 4930 -0.18\\ 4933 -0.12\\ 4936 -0.19\\ 4939 -0.26\\ 4942 -0.17\\ 4945 -0.10\\ 4948 -0.16\\ 4951 -0.24\\
 4954 -0.09\\ 4957 -0.02\\ 4960 -0.08\\ 4963 -0.16\\ 4966 -0.08\\ 4969 -0.01\\ 4972 -0.09\\ 4975 -0.15\\ 4978 -0.10\\ 4981 -0.04\\ 4984 -0.12\\ 4987 -0.20\\
 4990 -0.20\\ 4992 -0.27\\ 4994 -0.15\\ 4996 -0.35\\ 4998 -0.41\\ 5000 -0.30\\ 5002 -0.45\\ 5004 -0.45\\ 5006 -0.38\\ 5008 -0.41\\ 5010 -0.52\\ 5012 -0.64\\ 5014 -0.55\\ 5016 0.10\\ 5017 -0.50\\};
\addplot[only marks, mark=*, mark size=1.05pt, ired, mark options={fill=ired, line width=0.2pt}, forget plot]
 table[lt] {4261 -0.10\\ 4261 -0.19\\ 4267 -0.11\\ 4267 -0.03\\ 4273 -0.11\\ 4273 -0.20\\ 4279 -0.10\\ 4279 -0.02\\ 4285 -0.09\\ 4285 -0.18\\ 4291 -0.10\\ 4291 -0.04\\ 4297 -0.10\\ 4297 -0.20\\ 4303 -0.09\\ 4303 -0.03\\ 4309 -0.11\\ 4309 -0.19\\ 4315 -0.11\\ 4315 -0.02\\
 4321 -0.10\\ 4321 -0.19\\ 4327 -0.11\\ 4327 -0.03\\ 4333 -0.11\\ 4333 -0.20\\ 4339 -0.10\\ 4339 -0.02\\ 4345 -0.09\\ 4345 -0.18\\ 4351 -0.10\\ 4351 -0.04\\ 4357 -0.10\\ 4357 -0.20\\ 4363 -0.09\\ 4363 -0.03\\ 4369 -0.11\\ 4369 -0.19\\ 4375 -0.11\\ 4375 -0.02\\
 4381 -0.10\\ 4381 -0.19\\ 4387 -0.11\\ 4387 -0.03\\ 4393 -0.11\\ 4393 -0.20\\ 4399 -0.10\\ 4399 -0.02\\ 4405 -0.09\\ 4405 -0.18\\ 4411 -0.10\\ 4411 -0.04\\ 4417 -0.10\\ 4417 -0.20\\ 4423 -0.09\\ 4423 -0.03\\ 4429 -0.11\\ 4429 -0.19\\ 4435 -0.11\\ 4435 -0.02\\
 4441 -0.10\\ 4441 -0.19\\ 4447 -0.11\\ 4447 -0.03\\ 4453 -0.11\\ 4453 -0.20\\ 4459 -0.10\\ 4459 -0.02\\ 4465 -0.09\\ 4465 -0.18\\ 4471 -0.10\\ 4471 -0.04\\ 4477 -0.10\\ 4477 -0.20\\ 4483 -0.09\\ 4483 -0.03\\ 4489 -0.11\\ 4489 -0.19\\ 4495 -0.11\\ 4495 -0.02\\
 4501 -0.10\\ 4501 -0.19\\ 4507 -0.11\\ 4507 -0.03\\ 4513 -0.11\\ 4513 -0.20\\ 4519 -0.10\\ 4519 -0.02\\ 4525 -0.09\\ 4525 -0.18\\ 4531 -0.10\\ 4531 -0.04\\ 4537 -0.10\\ 4537 -0.20\\ 4543 -0.09\\ 4543 -0.03\\ 4549 -0.11\\ 4549 -0.19\\ 4555 -0.11\\ 4555 -0.02\\
 4561 -0.10\\ 4561 -0.19\\ 4567 -0.11\\ 4567 -0.03\\ 4573 -0.11\\ 4573 -0.20\\ 4579 -0.10\\ 4579 -0.02\\ 4585 -0.09\\ 4585 -0.18\\ 4591 -0.10\\ 4591 -0.04\\ 4597 -0.10\\ 4597 -0.20\\ 4603 -0.09\\ 4603 -0.03\\ 4609 -0.11\\ 4609 -0.19\\ 4615 -0.11\\ 4615 -0.02\\
 4621 -0.10\\ 4621 -0.19\\ 4627 -0.11\\ 4627 -0.03\\ 4633 -0.11\\ 4633 -0.20\\ 4639 -0.10\\ 4639 -0.02\\ 4645 -0.09\\ 4645 -0.18\\ 4651 -0.10\\ 4651 -0.04\\ 4657 -0.10\\ 4657 -0.20\\ 4663 -0.09\\ 4663 -0.03\\ 4669 -0.11\\ 4669 -0.19\\ 4675 -0.11\\ 4675 -0.02\\
 4681 -0.10\\ 4681 -0.19\\ 4687 -0.11\\ 4687 -0.03\\ 4693 -0.11\\ 4693 -0.20\\ 4699 -0.10\\ 4699 -0.02\\ 4705 -0.09\\ 4705 -0.18\\ 4711 -0.10\\ 4711 -0.04\\ 4717 -0.10\\ 4717 -0.20\\ 4723 -0.09\\ 4723 -0.03\\ 4729 -0.11\\ 4729 -0.19\\ 4735 -0.11\\ 4735 -0.02\\
 4741 -0.10\\ 4741 -0.19\\ 4747 -0.11\\ 4747 -0.03\\ 4753 -0.11\\ 4753 -0.20\\ 4759 -0.10\\ 4759 -0.02\\ 4765 -0.09\\ 4765 -0.18\\ 4771 -0.10\\ 4771 -0.04\\ 4777 -0.10\\ 4777 -0.20\\ 4783 -0.09\\ 4783 -0.03\\ 4789 -0.11\\ 4789 -0.19\\ 4795 -0.11\\ 4795 -0.02\\
 4801 -0.10\\ 4801 -0.19\\ 4807 -0.11\\ 4807 -0.03\\ 4813 -0.11\\ 4813 -0.20\\ 4819 -0.10\\ 4819 -0.02\\ 4825 -0.09\\ 4825 -0.18\\ 4831 -0.10\\ 4831 -0.04\\ 4837 -0.10\\ 4837 -0.20\\ 4843 -0.09\\ 4843 -0.03\\ 4849 -0.11\\ 4849 -0.19\\ 4855 -0.11\\ 4855 -0.02\\
 4861 -0.10\\ 4861 -0.19\\ 4867 -0.11\\ 4867 -0.03\\ 4873 -0.11\\ 4873 -0.20\\ 4879 -0.10\\ 4879 -0.02\\
 4885 -0.19\\ 4885 -0.27\\ 4891 -0.19\\ 4891 -0.11\\ 4897 -0.20\\ 4897 -0.26\\ 4903 -0.19\\ 4903 -0.12\\ 4909 -0.19\\ 4909 -0.28\\ 4915 -0.20\\ 4915 -0.11\\ 4921 -0.18\\ 4921 -0.27\\ 4927 -0.19\\ 4927 -0.12\\ 4933 -0.19\\ 4933 -0.26\\ 4939 -0.18\\ 4939 -0.11\\ 4945 -0.17\\ 4945 -0.24\\ 4951 -0.16\\ 4951 -0.10\\
 4957 -0.09\\ 4957 -0.16\\ 4963 -0.08\\ 4963 -0.02\\ 4969 -0.09\\ 4969 -0.15\\ 4975 -0.08\\ 4975 -0.01\\ 4981 -0.11\\ 4981 -0.19\\ 4987 -0.12\\ 4987 -0.04\\};
\addplot[black, line width=2pt, dash pattern=on 6.5pt off 3.5pt, mark=none] coordinates {(4100,1) (5200,1)};
\end{axis}
\end{tikzpicture}
\end{document}
